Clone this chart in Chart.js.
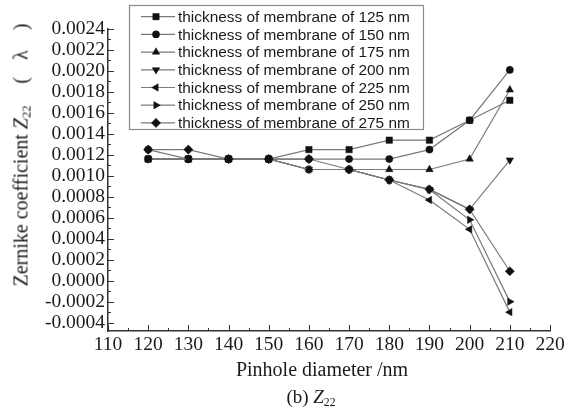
<!DOCTYPE html>
<html>
<head>
<meta charset="utf-8">
<script src="https://cdn.jsdelivr.net/npm/chart.js@4"></script>
<style>
  html, body { margin: 0; padding: 0; background: #fff; }
  #wrap { position: relative; width: 569px; height: 412px; }
  #c { position: absolute; left: 0; top: 0; }
  .serif { position: absolute; white-space: nowrap; color: #1a1a1a; font-family: "Liberation Serif", "Times New Roman", serif; }
  #ytitle { font-size: 20px; left: 21px; top: 155px; transform: translate(-50%, -50%) rotate(-90deg); }
  #xtitle { font-size: 20px; left: 322px; top: 369px; transform: translate(-50%, -50%); }
  #caption { font-size: 19px; left: 311px; top: 397px; transform: translate(-50%, -50%); }
  .par { display: inline-block; }
  sub { font-size: 0.62em; vertical-align: -0.25em; line-height: 0; }
</style>
</head>
<body>
<div id="wrap">
  <canvas id="c" width="569" height="412"></canvas>
  <div id="ytitle" class="serif">Zernike coefficient <i>Z</i><sub>22</sub><span class="par" style="margin-left:22px">(</span><span class="par" style="margin-left:17px">λ</span><span class="par" style="margin-left:20px">)</span></div>
  <div id="xtitle" class="serif">Pinhole diameter /nm</div>
  <div id="caption" class="serif">(b) <i>Z</i><sub>22</sub></div>
</div>
<script>
// diameter sumbu x (nm)
const pinholes = [120, 130, 140, 150, 160, 170, 180, 190, 200, 210];
const thickness = [125, 150, 175, 200, 225, 250, 275];

// koefisien Z22 per ketebalan membran
const z125 = [0.00116, 0.00116, 0.00116, 0.00116, 0.00125, 0.00125, 0.00134, 0.00134, 0.00153, 0.00172];
const z150 = [0.00125, 0.00116, 0.00116, 0.00116, 0.00116, 0.00116, 0.00116, 0.00125, 0.00153, 0.00201];
const z175 = [0.00116, 0.00116, 0.00116, 0.00116, 0.00106, 0.00106, 0.00106, 0.00106, 0.00116, 0.00182];
const z200 = [0.00116, 0.00116, 0.00116, 0.00116, 0.00106, 0.00106, 0.00096, 0.00087, 0.00068, 0.00115];
const z225 = [0.00116, 0.00116, 0.00116, 0.00116, 0.00106, 0.00106, 0.00096, 0.00077, 0.00049, -0.00030];
const z250 = [0.00116, 0.00116, 0.00116, 0.00116, 0.00106, 0.00106, 0.00096, 0.00087, 0.00058, -0.00020];
const z275 = [0.00125, 0.00125, 0.00116, 0.00116, 0.00116, 0.00106, 0.00096, 0.00087, 0.00068, 0.00009];

const yTicks = [-0.0004, -0.0002, 0, 0.0002, 0.0004, 0.0006, 0.0008, 0.0010, 0.0012, 0.0014, 0.0016, 0.0018, 0.0020, 0.0022, 0.0024];

const series = [z125, z150, z175, z200, z225, z250, z275];
const markers = ['rect', 'circle', 'triangle', 'triangle', 'triangle', 'triangle', 'rectRot'];
const rotations = [0, 0, 0, 180, 270, 90, 0];
const radii = [4.5, 3.6, 4.3, 4.3, 4.3, 4.3, 4.6];

const LINE = '#7a7a7a';
const INK = '#111';

const datasets = series.map((vals, i) => ({
    label: 'thickness of membrane of ' + thickness[i] + ' nm',
    data: vals.map((v, k) => ({ x: pinholes[k], y: v })),
    borderColor: LINE,
    borderWidth: 1.2,
    pointStyle: markers[i],
    rotation: rotations[i],
    pointRadius: radii[i],
    pointBackgroundColor: INK,
    pointBorderColor: INK,
    pointBorderWidth: 0.5,
    order: series.length - i, // seri terakhir digambar paling atas
    fill: false,
    tension: 0
}));

// tick ke dalam (mayor + minor), seperti plot Origin
const innerTicks = {
    id: 'innerTicks',
    afterDatasetsDraw(chart) {
        const { ctx, chartArea: a, scales: { x, y } } = chart;
        ctx.save();
        ctx.strokeStyle = '#333';
        ctx.lineWidth = 1;
        const seg = (x1, y1, x2, y2) => { ctx.beginPath(); ctx.moveTo(x1, y1); ctx.lineTo(x2, y2); ctx.stroke(); };

        const xv = x.ticks.map(t => t.value);
        xv.forEach((v, k) => {
            const px = Math.round(x.getPixelForValue(v)) + 0.5;
            seg(px, a.bottom, px, a.bottom - 6);
            if (k < xv.length - 1) {
                const mx = Math.round(x.getPixelForValue((v + xv[k + 1]) / 2)) + 0.5;
                seg(mx, a.bottom, mx, a.bottom - 3);
            }
        });
        const yv = y.ticks.map(t => t.value);
        yv.forEach((v, k) => {
            const py = Math.round(y.getPixelForValue(v)) + 0.5;
            seg(a.left, py, a.left + 6, py);
            if (k < yv.length - 1) {
                const my = Math.round(y.getPixelForValue((v + yv[k + 1]) / 2)) + 0.5;
                seg(a.left, my, a.left + 3, my);
            }
        });
        ctx.restore();
    }
};

// legenda berbingkai di dalam area plot
const boxLegend = {
    id: 'boxLegend',
    afterDraw(chart) {
        const ctx = chart.ctx;
        const left = 129, top = 5, right = 423, bottom = 129;
        ctx.save();
        ctx.fillStyle = '#fff';
        ctx.fillRect(left, top, right - left, bottom - top);
        ctx.strokeStyle = '#8a8a8a';
        ctx.lineWidth = 1.2;
        ctx.strokeRect(left + 0.5, top + 0.5, right - left, bottom - top);

        ctx.font = '15.4px "Liberation Sans", Arial, sans-serif';
        ctx.textBaseline = 'middle';
        datasets.forEach((ds, i) => {
            const yy = 16.7 + i * 17.7;
            ctx.strokeStyle = LINE;
            ctx.lineWidth = 1.2;
            ctx.beginPath();
            ctx.moveTo(141, yy);
            ctx.lineTo(175, yy);
            ctx.stroke();
            ctx.fillStyle = INK;
            ctx.strokeStyle = INK;
            ctx.lineWidth = 0.5;
            Chart.helpers.drawPoint(ctx, {
                pointStyle: markers[i], rotation: rotations[i], radius: radii[i], borderWidth: 0.5
            }, 156, yy);
            ctx.fillStyle = '#1a1a1a';
            ctx.fillText(ds.label, 178, yy + 1);
        });
        ctx.restore();
    }
};

const tickFont = { family: '"Liberation Serif", "Times New Roman", serif', size: 19.5 };

new Chart(document.getElementById('c'), {
    type: 'line',
    data: { datasets: datasets },
    options: {
        responsive: false,
        animation: false,
        events: [],
        layout: { padding: { left: 0, right: 19, top: 29, bottom: 0 } },
        plugins: { legend: { display: false }, tooltip: { enabled: false } },
        scales: {
            x: {
                type: 'linear',
                min: 110, max: 220,
                ticks: { stepSize: 10, font: tickFont, color: '#1a1a1a', padding: 2, maxRotation: 0, autoSkip: false },
                grid: { display: false, drawTicks: false },
                border: { display: true, color: '#333', width: 1.5 },
                afterFit: s => { s.height = 81; }
            },
            y: {
                min: -0.00048, max: 0.0024,
                afterBuildTicks: s => { s.ticks = yTicks.map(v => ({ value: v })); },
                ticks: { font: tickFont, color: '#1a1a1a', padding: 3, autoSkip: false, callback: v => Number(v).toFixed(4) },
                grid: { display: false, drawTicks: false },
                border: { display: true, color: '#333', width: 1.5 },
                afterFit: s => { s.width = 108; }
            }
        }
    },
    plugins: [innerTicks, boxLegend]
});
</script>
</body>
</html>
